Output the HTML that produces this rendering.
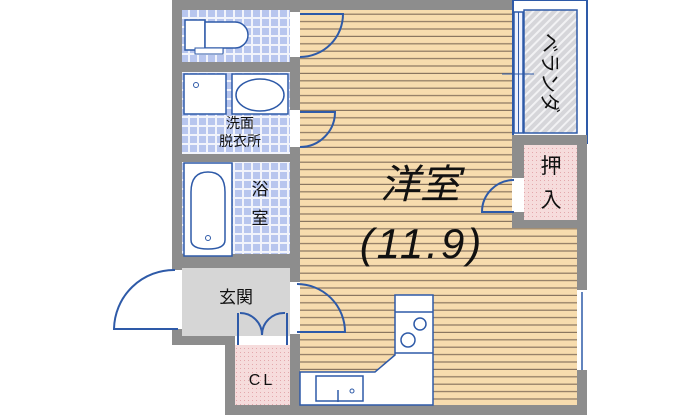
<!DOCTYPE html>
<html><head><meta charset="utf-8"><style>
html,body{margin:0;padding:0;background:#fff;width:700px;height:415px;overflow:hidden}
</style></head><body>
<svg width="700" height="415" viewBox="0 0 700 415" xmlns="http://www.w3.org/2000/svg" font-family="Liberation Sans, Noto Sans CJK JP, sans-serif">
<defs>
<pattern id="stripe" width="8" height="7.4" patternUnits="userSpaceOnUse">
<rect width="8" height="7.4" fill="#f7dcae"/><rect y="6.2" width="8" height="1.2" fill="#8a7660"/>
</pattern>
<pattern id="tile" width="9" height="9" patternUnits="userSpaceOnUse">
<rect width="9" height="9" fill="#f2f4fb"/><rect x="1" y="1" width="7" height="7" fill="#b8c6ee"/>
</pattern>
<pattern id="hatch" width="6" height="6" patternUnits="userSpaceOnUse" patternTransform="rotate(45)">
<rect width="6" height="6" fill="#d6d6da"/><rect width="2" height="6" fill="#f2f2f4"/>
</pattern>
<pattern id="pink" width="4" height="4" patternUnits="userSpaceOnUse">
<rect width="4" height="4" fill="#f6dcdc"/><rect width="1" height="1" fill="#e4a8ac"/>
</pattern>
</defs>
<rect x="172" y="0" width="345" height="262" fill="#8d8d8d"/>
<rect x="172" y="262" width="128" height="83" fill="#8d8d8d"/>
<rect x="225" y="330" width="362" height="85" fill="#8d8d8d"/>
<rect x="290" y="135" width="297" height="280" fill="#8d8d8d"/>
<rect x="300" y="10" width="212" height="395" fill="url(#stripe)"/>
<rect x="512" y="228" width="65" height="177" fill="url(#stripe)"/>
<rect x="513" y="0" width="74" height="143" fill="#fff" stroke="#2e5aa8" stroke-width="2"/>
<rect x="524" y="10" width="53" height="123" fill="url(#hatch)" stroke="#2e5aa8" stroke-width="1.5"/>
<rect x="514" y="12" width="9" height="121" fill="#eef2ff" stroke="#2e5aa8" stroke-width="1.5"/>
<line x1="518.5" y1="12" x2="518.5" y2="133" stroke="#2e5aa8" stroke-width="1"/>
<line x1="502" y1="74" x2="534" y2="74" stroke="#2e5aa8" stroke-width="1"/>
<rect x="512" y="135" width="75" height="93" fill="#8d8d8d"/>
<rect x="524" y="145" width="53" height="75" fill="url(#pink)"/>
<text transform="translate(543,73) rotate(90)" font-size="20" text-anchor="middle" fill="#111">ベランダ</text>
<text x="551" y="173" font-size="21" text-anchor="middle" fill="#111">押</text>
<text x="551" y="207" font-size="21" text-anchor="middle" fill="#111">入</text>
<rect x="512" y="178" width="12" height="34" fill="#fff"/>
<path d="M514 180 A32 32 0 0 0 482 212 L514 212" fill="none" stroke="#2e5aa8" stroke-width="2"/>
<rect x="182" y="10" width="108" height="52" fill="url(#tile)"/>
<rect x="185" y="20" width="20" height="30" fill="#fff" stroke="#2e5aa8" stroke-width="1.5"/>
<path d="M205 22 H235 A13 13 0 0 1 235 48 H205 Z" fill="#fff" stroke="#2e5aa8" stroke-width="1.5"/>
<rect x="195" y="48" width="28" height="6" fill="#fff" stroke="#2e5aa8" stroke-width="1"/>
<rect x="182" y="72" width="108" height="82" fill="url(#tile)"/>
<rect x="184" y="74" width="42" height="40" fill="#fff" stroke="#2e5aa8" stroke-width="1.5"/>
<circle cx="196" cy="85" r="2.5" fill="none" stroke="#2e5aa8"/>
<rect x="232" y="74" width="56" height="40" fill="#fff" stroke="#2e5aa8" stroke-width="1.5"/>
<ellipse cx="260" cy="95" rx="24" ry="16" fill="#fff" stroke="#2e5aa8" stroke-width="1.5"/>
<text x="240" y="128" font-size="14" text-anchor="middle" fill="#111">洗面</text>
<text x="240" y="146" font-size="14" text-anchor="middle" fill="#111">脱衣所</text>
<rect x="182" y="162" width="108" height="92" fill="url(#tile)"/>
<rect x="184" y="163" width="48" height="93" fill="#fff" stroke="#2e5aa8" stroke-width="1.5"/>
<path d="M191 192 Q191 172 208 172 Q225 172 225 192 V240 Q225 249 208 249 Q191 249 191 240 Z" fill="#fff" stroke="#2e5aa8" stroke-width="1.5"/>
<circle cx="208" cy="238" r="2.5" fill="none" stroke="#2e5aa8"/>
<text x="260" y="195" font-size="17" text-anchor="middle" fill="#111">浴</text>
<text x="260" y="224" font-size="17" text-anchor="middle" fill="#111">室</text>
<rect x="290" y="12" width="10" height="45" fill="#fff"/>
<path d="M300 14 H343 A43 43 0 0 1 300 57" fill="none" stroke="#2e5aa8" stroke-width="2"/>
<rect x="290" y="110" width="10" height="37" fill="#fff"/>
<path d="M300 112 H335 A35 35 0 0 1 300 147" fill="none" stroke="#2e5aa8" stroke-width="2"/>
<rect x="182" y="268" width="108" height="68" fill="#d6d6d6"/>
<rect x="172" y="270" width="10" height="59" fill="#fff"/>
<path d="M175 270 A60 60 0 0 0 114 329 H178" fill="none" stroke="#2e5aa8" stroke-width="2"/>
<text x="236" y="303" font-size="17" text-anchor="middle" fill="#111">玄関</text>
<rect x="290" y="282" width="10" height="52" fill="#fff"/>
<path d="M297 284 A48 48 0 0 1 345 332 H297" fill="none" stroke="#2e5aa8" stroke-width="2"/>
<rect x="235" y="345" width="55" height="60" fill="url(#pink)"/>
<rect x="235" y="336" width="55" height="9" fill="#fff"/>
<path d="M238 313 V345 M287 313 V345 M240 313 A22 22 0 0 1 262 335 A22 22 0 0 1 285 313" fill="none" stroke="#2e5aa8" stroke-width="2"/>
<text x="262" y="385" font-size="16" text-anchor="middle" fill="#111" letter-spacing="3">CL</text>
<path d="M300 372 H375 L395 355 V295 H433 V405 H300 Z" fill="#fff" stroke="#2e5aa8" stroke-width="1.5"/>
<line x1="395" y1="312" x2="433" y2="312" stroke="#2e5aa8" stroke-width="1.5"/>
<line x1="395" y1="353" x2="433" y2="353" stroke="#2e5aa8" stroke-width="1.5"/>
<circle cx="420" cy="324" r="6" fill="none" stroke="#2e5aa8" stroke-width="1.5"/>
<circle cx="408" cy="340" r="7" fill="none" stroke="#2e5aa8" stroke-width="1.5"/>
<rect x="316" y="376" width="47" height="25" fill="#fff" stroke="#2e5aa8" stroke-width="1.5"/>
<line x1="338" y1="390" x2="338" y2="402" stroke="#2e5aa8" stroke-width="1.5"/>
<circle cx="352" cy="391" r="2" fill="none" stroke="#2e5aa8"/>
<rect x="577" y="290" width="10" height="80" fill="#fff"/>
<line x1="582" y1="292" x2="582" y2="370" stroke="#2e5aa8" stroke-width="1.5"/>
<text x="420" y="198" font-size="40" text-anchor="middle" font-style="italic" fill="#111">洋室</text>
<text x="422" y="258" font-size="42" text-anchor="middle" font-style="italic" fill="#111" letter-spacing="3">(11.9)</text>
</svg>
</body></html>
